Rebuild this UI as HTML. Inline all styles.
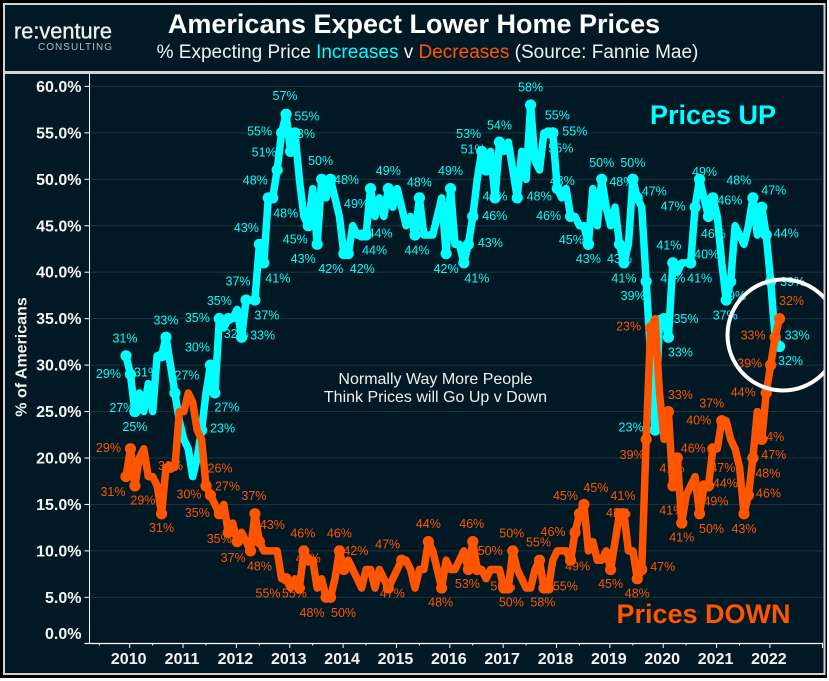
<!DOCTYPE html>
<html lang="en">
<head>
<meta charset="utf-8">
<title>Americans Expect Lower Home Prices</title>
<style>
html,body{margin:0;padding:0;background:#fff;}
svg{display:block;font-family:"Liberation Sans",Arial,sans-serif;}
</style>
</head>
<body>
<svg id="chart" width="829" height="681" viewBox="0 0 829 681" xmlns="http://www.w3.org/2000/svg">
  <defs>
    <clipPath id="plot-clip"><rect x="5" y="74" width="818.5" height="599"/></clipPath>
  </defs>
  <rect x="0" y="0" width="829" height="681" fill="#ffffff"/>
  <rect x="0" y="0" width="827" height="678" fill="#000000"/>
  <rect x="4" y="4" width="820.5" height="670" fill="#011924" stroke="#d2d2d2" stroke-width="2"/>
  <rect x="5" y="71" width="819" height="3" fill="#d2d2d2"/>

  <text x="14" y="38.5" font-size="22" fill="#eef0f0" stroke="#eef0f0" stroke-width="0.35" textLength="98" lengthAdjust="spacingAndGlyphs">re:venture</text>
  <text x="38" y="50" font-size="10" fill="#b4bcbf" textLength="74">CONSULTING</text>

  <text x="414" y="33" font-size="27" font-weight="bold" fill="#ffffff" text-anchor="middle">Americans Expect Lower Home Prices</text>
  <text x="427.5" y="58" font-size="19" fill="#f2f2f2" text-anchor="middle">% Expecting Price <tspan fill="#00ffff">Increases</tspan> v <tspan fill="#ff5500">Decreases</tspan> (Source: Fannie Mae)</text>

  <g id="grid-layer"></g>
  <g id="axis-layer"></g>
  <text transform="translate(26.5,357) rotate(-90)" font-size="16" font-weight="bold" fill="#f2f2f2" text-anchor="middle">% of Americans</text>

  <g id="label-layer" font-size="12.5"></g>
  <g id="up-layer"></g>
  <g id="down-layer"></g>

  <text x="713" y="124" font-size="27" font-weight="bold" fill="#00ffff" text-anchor="middle">Prices UP</text>
  <text x="703.5" y="623" font-size="27" font-weight="bold" fill="#ff5500" text-anchor="middle">Prices DOWN</text>
  <text x="435.5" y="384" font-size="16" fill="#f0f0f0" text-anchor="middle">Normally Way More People</text>
  <text x="435.5" y="402" font-size="16" fill="#f0f0f0" text-anchor="middle">Think Prices will Go Up v Down</text>

  <g clip-path="url(#plot-clip)">
    <circle cx="783" cy="335" r="55.5" fill="none" stroke="#ffffff" stroke-width="4"/>
  </g>
</svg>

<script>
const yearTicks = [2010,2011,2012,2013,2014,2015,2016,2017,2018,2019,2020,2021,2022];
const percentTicks = [0,5,10,15,20,25,30,35,40,45,50,55,60];
const upValues = [
  31,29,25,27,25,28,25,31,31,33,
  30,27,24,22,21,18,20,23,27,30,
  27,35,34,35,35,36,33,37,37,37,
  43,41,48,48,51,55,57,53,55,50,
  46,45,49,43,50,48,50,48,46,42,
  42,45,44,44,44,49,46,48,46,49,
  47,49,47,45,46,44,48,44,44,44,
  46,48,42,49,43,43,41,43,46,50,
  53,51,53,48,54,53,54,51,48,53,
  50,58,52,51,55,55,55,49,48,49,
  46,46,45,45,43,49,45,50,47,45,
  47,43,41,43,50,48,47,39,31,23,
  35,35,33,41,40,41,41,41,47,50,
  48,46,48,46,41,37,39,45,44,43,
  45,48,44,47,44,39,33,32
];
const downValues = [
  18,21,17,20,21,18,18,17,14,19,
  19,19,25,25,27,26,23,22,17,16,
  15,14,15,12,13,11,12,11,10,14,
  11,10,10,10,10,7,7,6,7,6,
  10,9,9,6,7,5,5,7,10,8,
  9,8,7,6,8,8,6,8,7,6,
  7,8,9,9,8,6,8,8,11,10,
  8,6,9,8,8,9,10,8,11,8,
  8,7,8,8,8,6,6,10,8,7,
  6,6,8,9,6,6,9,10,10,10,
  9,12,14,15,10,11,9,9,10,8,
  11,14,14,10,10,7,8,22,34,35,
  27,22,25,17,20,13,16,17,18,14,
  17,17,21,21,24,24,22,21,19,14,
  16,20,25,22,27,30,33,35
];

const NS = 'http://www.w3.org/2000/svg';
const CYAN = '#00ffff';
const ORANGE = '#ff5500';
const gridLayer = document.getElementById('grid-layer');
const axisLayer = document.getElementById('axis-layer');
const labelLayer = document.getElementById('label-layer');
const upLayer = document.getElementById('up-layer');
const downLayer = document.getElementById('down-layer');

function xScale(monthIndex){ return 126 + 4.446 * monthIndex; }
function yScale(pct){ return 643.8 - 9.29 * pct; }
function xYear(year, frac){ return xScale((year - 2010 + (frac || 0)) * 12 + 0.83); }

function make(parent, tag, attrs, text){
  const el = document.createElementNS(NS, tag);
  for (const k in attrs) el.setAttribute(k, attrs[k]);
  if (text !== undefined) el.textContent = text;
  parent.appendChild(el);
  return el;
}

/* gridlines and y axis */
percentTicks.forEach(function(v){
  const y = yScale(v);
  if (v > 0) {
    const g = make(gridLayer, 'line', {x1:90, x2:823, y1:y, y2:y, stroke:'#1d3440', 'stroke-width':1});
    
    
    const t = make(axisLayer, 'line', {x1:84.5, x2:89.5, y1:y, y2:y, stroke:'#ffffff', 'stroke-width':1});
    
    
  }
  const labelY = v === 0 ? y - 10.5 : y;
  const l = make(axisLayer, 'text', {x:81.5, y:labelY + 5.5, 'font-size':16, 'font-weight':'bold', fill:'#f6f6f6', 'text-anchor':'end'}, v.toFixed(1) + '%');
  
  
});
const yAxisLine = make(axisLayer, 'line', {x1:89.5, x2:89.5, y1:74, y2:643.5, stroke:'#ffffff', 'stroke-width':1});



/* x axis */
const xAxisLine = make(axisLayer, 'line', {x1:84.5, x2:823, y1:643.5, y2:643.5, stroke:'#ffffff', 'stroke-width':1.3});


const xAxisEnd = make(axisLayer, 'line', {x1:822.5, x2:822.5, y1:643.5, y2:648, stroke:'#ffffff', 'stroke-width':1});


yearTicks.forEach(function(year){
  const x = xYear(year);
  const t = make(axisLayer, 'line', {x1:x, x2:x, y1:643.5, y2:648, stroke:'#ffffff', 'stroke-width':1});
  
  
  const mx = xYear(year, -0.57);
  const m = make(axisLayer, 'line', {x1:mx, x2:mx, y1:643.5, y2:645.5, stroke:'#ffffff', 'stroke-width':1});
  
  
  const l = make(axisLayer, 'text', {x:x - 1, y:664, 'font-size':16, 'font-weight':'bold', fill:'#f6f6f6', 'text-anchor':'middle'}, String(year));
  
  
});

/* series lines */
function linePath(values){
  return values.map(function(v, i){
    return (i ? 'L' : 'M') + xScale(i).toFixed(2) + ' ' + yScale(v).toFixed(2);
  }).join(' ');
}
const upLine = make(upLayer, 'path', {d:linePath(upValues), fill:'none', stroke:CYAN, 'stroke-width':7.5, 'stroke-linejoin':'round', 'stroke-linecap':'round'});


const downLine = make(downLayer, 'path', {d:linePath(downValues), fill:'none', stroke:ORANGE, 'stroke-width':7.5, 'stroke-linejoin':'round', 'stroke-linecap':'round'});



/* labelled points: a marker on the series plus a label offset from it */
function up(i, text, dx, dy){
  const px = xScale(i), py = yScale(upValues[i]);
  const mk = make(upLayer, 'circle', {cx:px, cy:py, r:5.6, fill:CYAN});
  
  
  const lb = make(labelLayer, 'text', {x:px + dx, y:py + dy + 4.5, fill:CYAN, 'text-anchor':'middle'}, text);
  
  
}
function down(i, text, dx, dy){
  const px = xScale(i), py = yScale(downValues[i]);
  const mk = make(downLayer, 'circle', {cx:px, cy:py, r:5.6, fill:ORANGE});
  
  
  const lb = make(labelLayer, 'text', {x:px + dx, y:py + dy + 4.5, fill:ORANGE, 'text-anchor':'middle'}, text);
  
  
}

up(0,'31%',-1,-18); up(1,'29%',-22,-1); up(2,'27%',-13,-4); up(2,'25%',0,15);
up(8,'31%',-15,16); up(9,'33%',0,-17); up(11,'27%',12,-18); up(19,'30%',-13,-18);
up(21,'35%',-22,-1); up(21,'35%',0,-18); up(27,'37%',-8,-19); up(29,'37%',12,15);
up(26,'33%',21,-2); up(23,'32%',8,15); up(20,'27%',12,14); up(17,'23%',21,-2);
up(36,'57%',-1,-19); up(38,'55%',12,-17); up(37,'53%',12,-18); up(35,'55%',-22,-2);
up(34,'51%',-13,-18); up(32,'48%',-13,-18); up(33,'48%',13,15); up(30,'43%',-13,-17);
up(31,'41%',14,15); up(44,'50%',-1,-19); up(46,'48%',16,0); up(41,'45%',-13,13);
up(43,'43%',-14,14); up(49,'42%',-13,15); up(50,'42%',14,15); up(55,'49%',-14,15);
up(54,'44%',14,-2); up(53,'44%',13,15); up(59,'49%',0,-18); up(65,'44%',2,15);
up(66,'48%',0,-16); up(73,'49%',0,-18); up(72,'42%',0,15); up(76,'41%',13,15);
up(77,'43%',22,-2); up(78,'46%',22,-1); up(80,'53%',-13,-18); up(81,'51%',-13,-21);
up(83,'46%',0,-2); up(84,'54%',0,-17); up(88,'48%',22,-2); up(91,'58%',0,-18);
up(95,'55%',9,-18); up(96,'55%',22,-2); up(96,'55%',8,15); up(97,'48%',5,-8);
up(100,'46%',-22,-1); up(104,'45%',-17,-5); up(104,'43%',0,14); up(107,'50%',0,-17);
up(111,'43%',0,14); up(112,'41%',0,15); up(114,'48%',-11,2); up(114,'50%',0,-17);
up(115,'47%',17,-7); up(117,'39%',-13,14); up(123,'41%',-4,-18); up(123,'41%',0,15);
up(127,'41%',9,15); up(128,'47%',-22,-1); up(127,'40%',16,-9); up(129,'49%',5,-8);
up(131,'46%',5,17); up(132,'46%',17,2); up(141,'48%',-14,-18); up(143,'47%',12,-17);
up(144,'44%',20,-2); up(136,'39%',3,14); up(135,'37%',-1,15); up(121,'35%',22,0);
up(122,'33%',12,15); up(145,'39%',22,0); up(146,'33%',22,-2); up(147,'32%',11,14);
up(119,'23%',-24,-3);

down(1,'29%',-22,-1); down(0,'31%',-13,15); down(2,'29%',8,14); down(8,'31%',0,14);
down(10,'30%',0,-2); down(18,'30%',-17,8); down(18,'26%',14,-18); down(19,'27%',17,-9);
down(21,'35%',-22,-1); down(29,'37%',-1,-18); down(23,'35%',-9,6); down(25,'37%',-4,16);
down(30,'43%',13,-17); down(28,'48%',9,15); down(40,'46%',-1,-18); down(41,'46%',0,-2);
down(36,'55%',-18,14); down(39,'55%',-5,5); down(45,'48%',-14,15); down(46,'50%',13,15);
down(48,'46%',0,-18); down(49,'42%',12,-19); down(62,'47%',-14,-16); down(59,'47%',4,5);
down(68,'44%',0,-18); down(71,'48%',-1,14); down(77,'53%',-1,14); down(78,'46%',-1,-18);
down(79,'50%',13,-19); down(85,'50%',-1,-2); down(86,'50%',3,14); down(87,'50%',-1,-18);
down(93,'55%',-1,-18); down(94,'58%',-1,14); down(95,'55%',17,-2); down(101,'46%',-22,-1);
down(100,'49%',7,6); down(102,'45%',-14,-18); down(103,'45%',12,-17); down(109,'45%',0,14);
down(112,'41%',-1,-18); down(111,'42%',-1,-1); down(115,'48%',0,14); down(116,'47%',21,-3);
down(117,'39%',-14,15); down(118,'23%',-22,-2); down(122,'33%',12,-17); down(123,'41%',-1,-18);
down(125,'41%',-10,-13); down(125,'41%',0,14); down(124,'46%',16,-10); down(134,'37%',-10,-18);
down(134,'40%',-23,-1); down(132,'47%',10,19); down(131,'44%',17,-3); down(130,'49%',12,15);
down(129,'50%',12,15); down(139,'43%',0,15); down(140,'46%',20,-2); down(141,'48%',15,15);
down(143,'47%',12,15); down(143,'44%',10,-3); down(144,'44%',-23,-1); down(145,'39%',-21,-2);
down(146,'33%',-22,-2); down(147,'32%',12,-18);
</script>
</body>
</html>
